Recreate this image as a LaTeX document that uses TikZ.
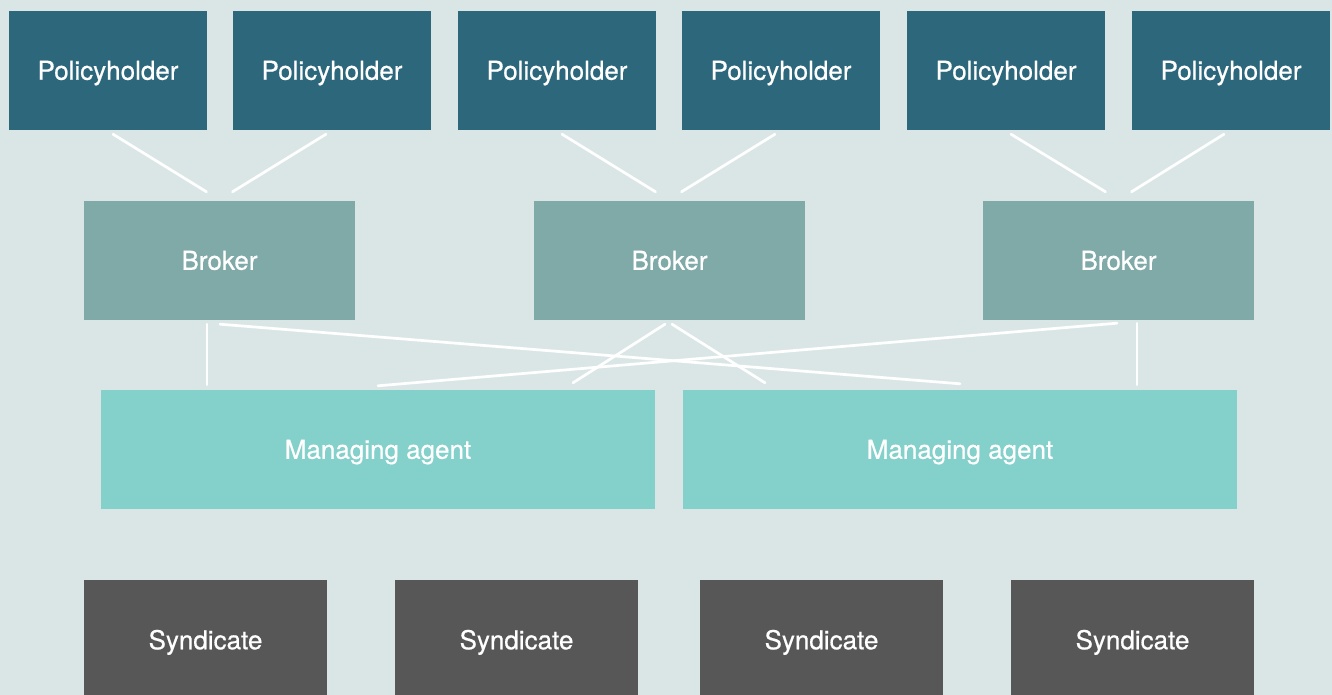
\documentclass[tikz,border=0pt]{standalone}
\usepackage{fontspec}
\setmainfont{TeX Gyre Heros}[FakeBold=0.6]
\definecolor{bgc}{HTML}{DAE6E6}
\definecolor{phc}{HTML}{2C677C}
\definecolor{brc}{HTML}{80AAA8}
\definecolor{mac}{HTML}{84D0CA}
\definecolor{syc}{HTML}{575757}
\begin{document}
\begin{tikzpicture}[x=1pt,y=-1pt,
  box/.style={inner sep=0pt, text=white, font=\fontsize{26}{31}\selectfont,
    text height=18.5pt, text depth=0pt, minimum height=119pt},
  phbox/.style={box, fill=phc, minimum width=198pt},
  brbox/.style={box, fill=brc, minimum width=271pt},
  mabox/.style={box, fill=mac, minimum width=554pt},
  sybox/.style={box, fill=syc, minimum width=243pt, minimum height=120pt},
  link/.style={draw=white, line width=2.7pt, line cap=round}]
\clip (0,0) rectangle (1332,695);
\fill[bgc] (0,0) rectangle (1332,695);

% policyholders
\node[phbox] (ph1) at (108,70.5) {Policyholder};
\node[phbox] (ph2) at (332,70.5) {Policyholder};
\node[phbox] (ph3) at (557,70.5) {Policyholder};
\node[phbox] (ph4) at (781,70.5) {Policyholder};
\node[phbox] (ph5) at (1006,70.5) {Policyholder};
\node[phbox] (ph6) at (1231,70.5) {Policyholder};

% brokers
\node[brbox] (br1) at (219.5,260.5) {Broker};
\node[brbox] (br2) at (669.5,260.5) {Broker};
\node[brbox] (br3) at (1118.5,260.5) {Broker};

% managing agents
\node[mabox] (ma1) at (378,449.5) {Managing agent};
\node[mabox] (ma2) at (960,449.5) {Managing agent};

% syndicates
\node[sybox] (sy1) at (205.5,640) {Syndicate};
\node[sybox] (sy2) at (516.5,640) {Syndicate};
\node[sybox] (sy3) at (821.5,640) {Syndicate};
\node[sybox] (sy4) at (1132.5,640) {Syndicate};

% policyholders to brokers
\draw[link] ([xshift=5pt,yshift=-4pt]ph1.south) -- ([xshift=-13pt,yshift=9pt]br1.north);
\draw[link] ([xshift=-6pt,yshift=-4pt]ph2.south) -- ([xshift=13pt,yshift=9pt]br1.north);
\draw[link] ([xshift=5pt,yshift=-4pt]ph3.south) -- ([xshift=-14pt,yshift=9pt]br2.north);
\draw[link] ([xshift=-6pt,yshift=-4pt]ph4.south) -- ([xshift=12pt,yshift=9pt]br2.north);
\draw[link] ([xshift=5pt,yshift=-4pt]ph5.south) -- ([xshift=-13pt,yshift=9pt]br3.north);
\draw[link] ([xshift=-7pt,yshift=-4pt]ph6.south) -- ([xshift=13pt,yshift=9pt]br3.north);

% brokers to managing agents
\draw[link] ([xshift=-12.5pt,yshift=-4pt]br1.south) -- ([xshift=-171pt,yshift=5pt]ma1.north);
\draw[link] ([xshift=0.5pt,yshift=-4pt]br1.south) -- ([yshift=6pt]ma2.north);
\draw[link] ([xshift=-4.5pt,yshift=-4pt]br2.south) -- ([xshift=195pt,yshift=7pt]ma1.north);
\draw[link] ([xshift=2.5pt,yshift=-4pt]br2.south) -- ([xshift=-195pt,yshift=7pt]ma2.north);
\draw[link] ([xshift=-1.5pt,yshift=-3pt]br3.south) -- ([yshift=4pt]ma1.north);
\draw[link] ([xshift=18.5pt,yshift=-3pt]br3.south) -- ([xshift=177pt,yshift=5pt]ma2.north);
\end{tikzpicture}
\end{document}
